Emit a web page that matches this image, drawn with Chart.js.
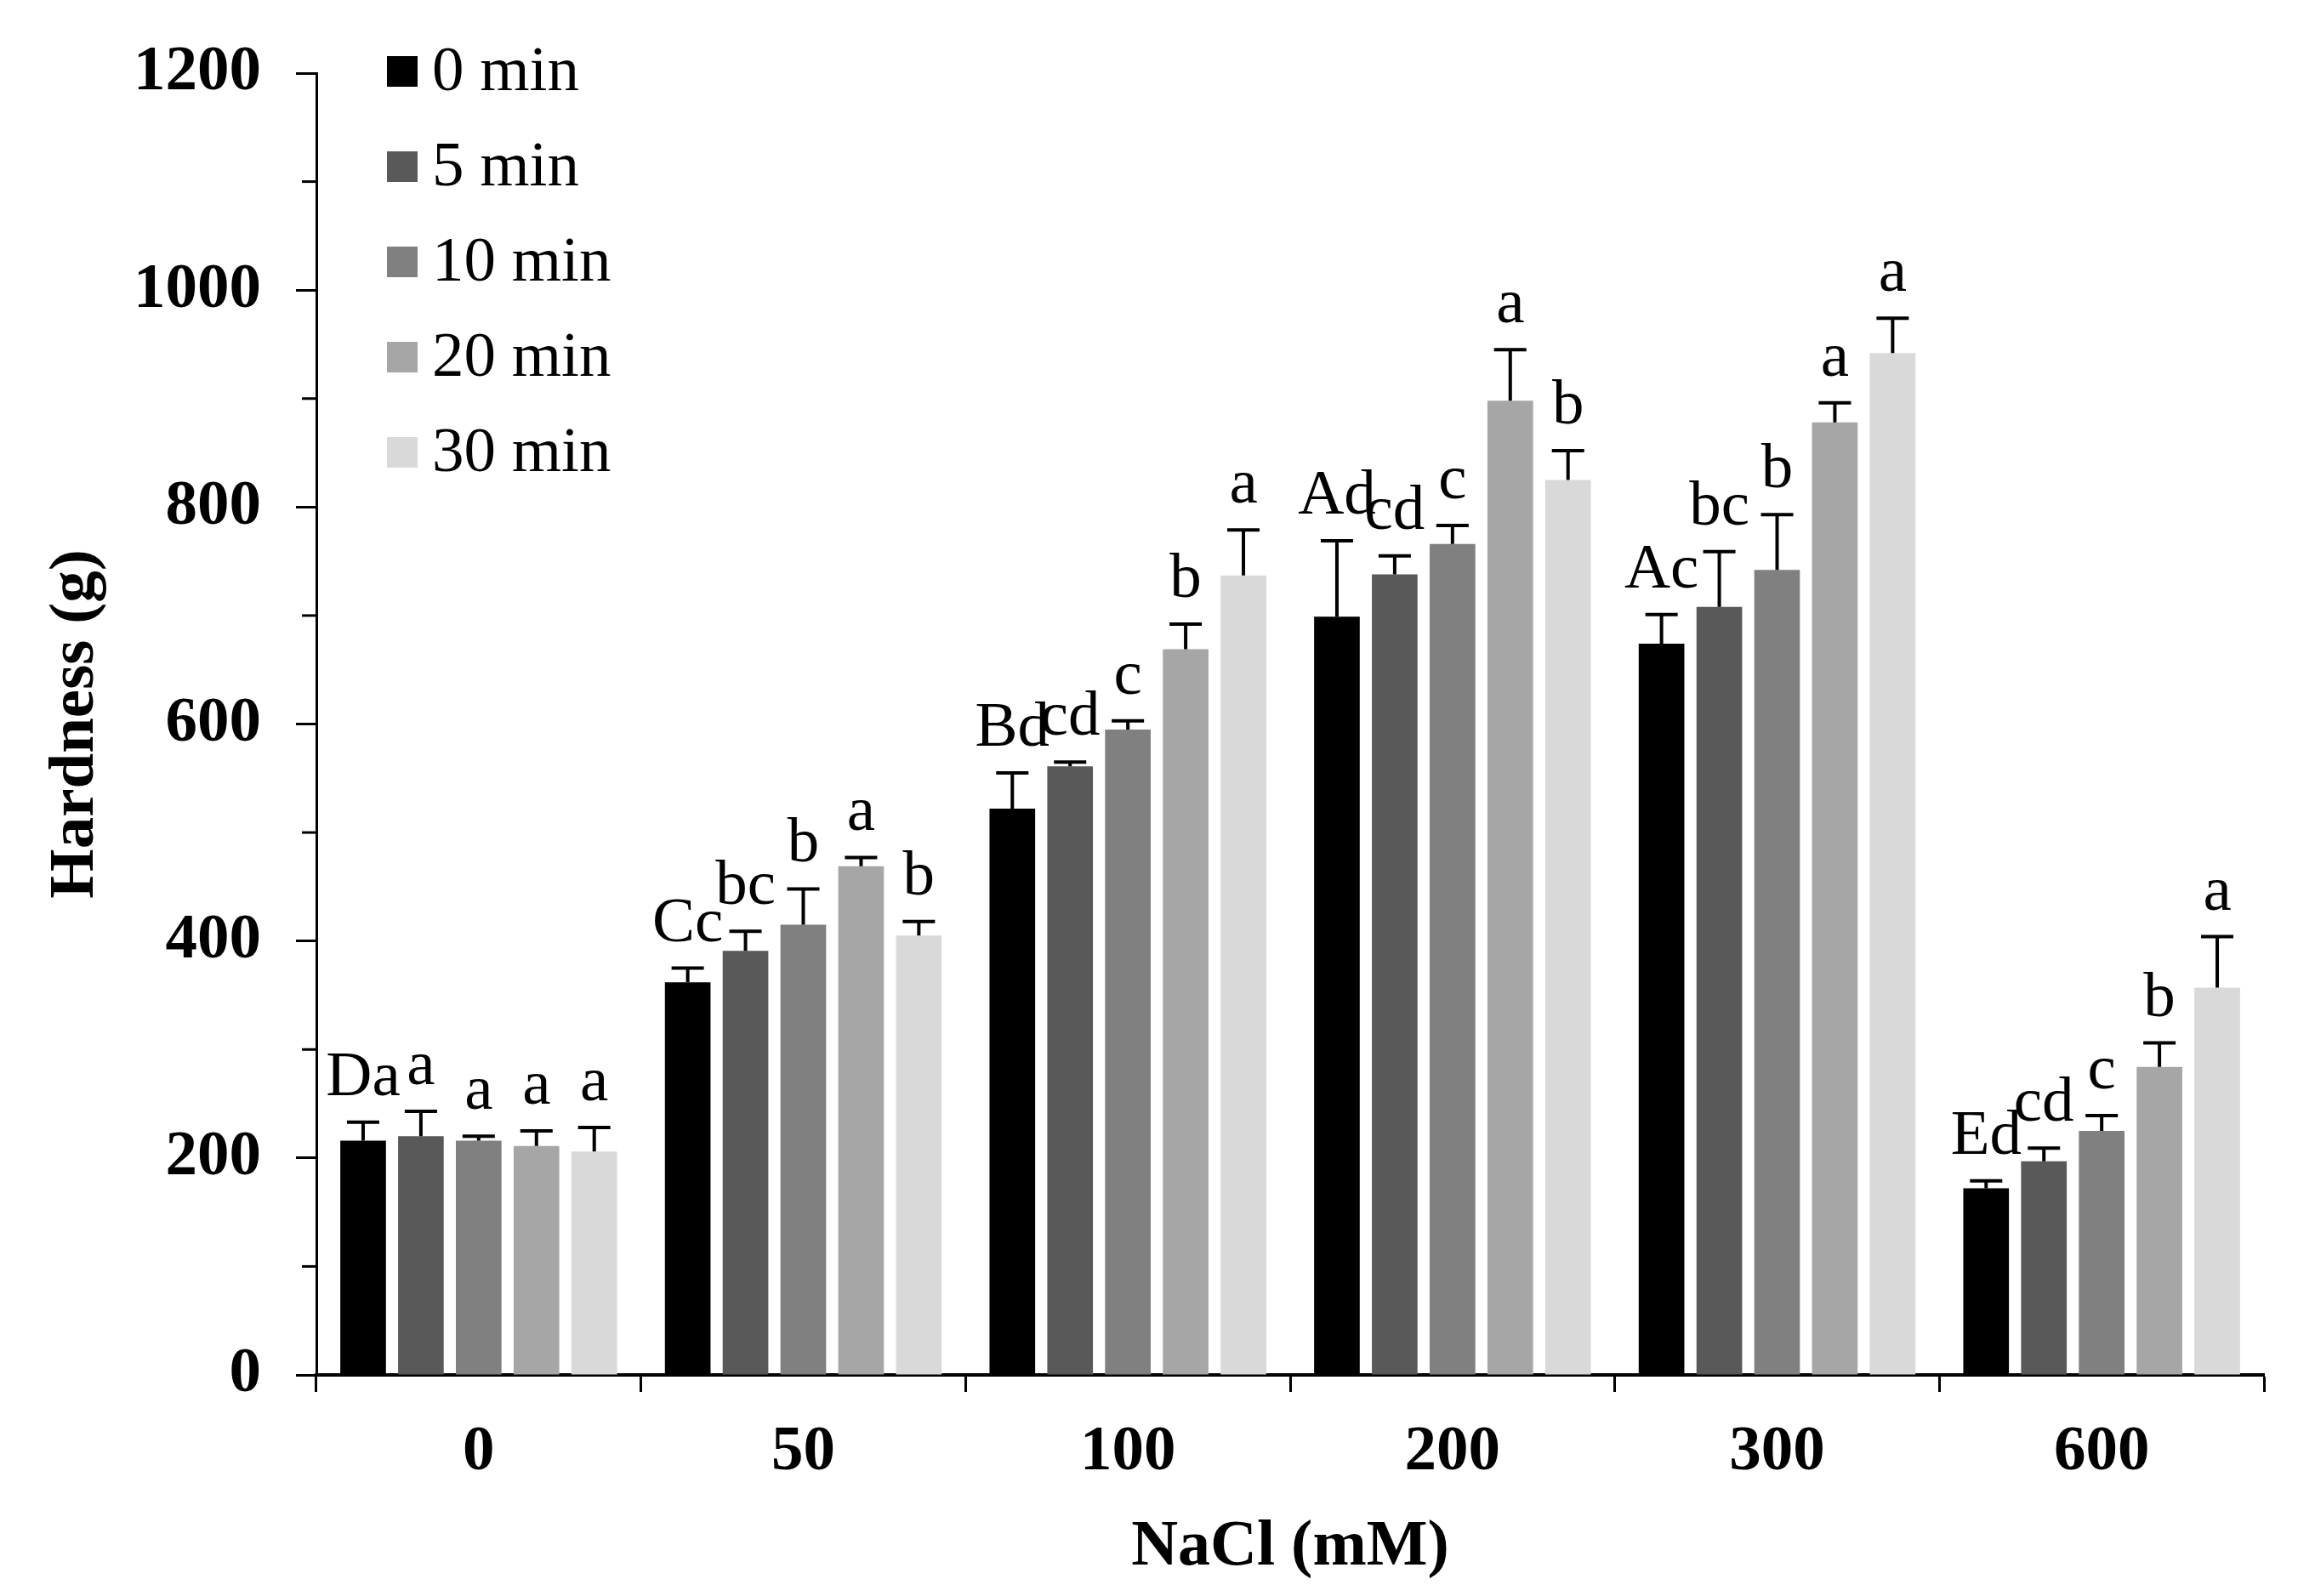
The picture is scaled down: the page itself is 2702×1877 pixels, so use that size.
<!DOCTYPE html>
<html>
<head>
<meta charset="utf-8">
<script src="https://cdn.jsdelivr.net/npm/chart.js@4.4.1/dist/chart.umd.min.js"></script>
<style>
  body { margin: 0; background: #fff; }
  #wrap { width: 2702px; height: 1877px; }
</style>
</head>
<body>
<div id="wrap"><canvas id="myChart" width="2702" height="1877"></canvas></div>
<script>
  // NaCl concentration groups (mM)
  const nacl = ["0", "50", "100", "200", "300", "600"];
  const seriesNames = ["0 min", "5 min", "10 min", "20 min", "30 min"];
  const seriesColors = ["#000000", "#595959", "#808080", "#a6a6a6", "#d9d9d9"];

  // hardness (g) per soaking time
  const hard0 = [216, 362, 522, 699, 674, 172];
  const hard5 = [220, 391, 561, 738, 708, 197];
  const hard10 = [216, 415, 595, 766, 742, 225];
  const hard20 = [211, 469, 669, 898, 878, 284];
  const hard30 = [206, 405, 737, 825, 942, 357];

  // error bars (upper only)
  const err0 = [17, 13, 33, 70, 27, 7];
  const err5 = [23, 18, 4, 17, 51, 12];
  const err10 = [4, 33, 8, 17, 51, 14];
  const err20 = [14, 8, 23, 47, 18, 22];
  const err30 = [22, 13, 42, 27, 32, 47];

  // significance letters
  const let0 = ["Da", "Cc", "Bd", "Ad", "Ac", "Ed"];
  const let5 = ["a", "bc", "cd", "cd", "bc", "cd"];
  const let10 = ["a", "b", "c", "c", "b", "c"];
  const let20 = ["a", "a", "b", "a", "a", "b"];
  const let30 = ["a", "b", "a", "b", "a", "a"];

  const yTicks = [0, 200, 400, 600, 800, 1000, 1200];

  const serif = '"Liberation Serif", "Times New Roman", serif';
  Chart.defaults.font.family = serif;
  Chart.defaults.color = "#000";

  const values = [hard0, hard5, hard10, hard20, hard30];
  const errors = [err0, err5, err10, err20, err30];
  const letters = [let0, let5, let10, let20, let30];

  // error bars + letters above them
  const errorBars = {
    id: "errorBars",
    afterDatasetsDraw(chart) {
      const ctx = chart.ctx;
      const y = chart.scales.y;
      ctx.save();
      ctx.strokeStyle = "#000";
      ctx.lineWidth = 4;
      ctx.fillStyle = "#000";
      ctx.font = "75px " + serif;
      ctx.textAlign = "center";
      ctx.textBaseline = "alphabetic";
      chart.data.datasets.forEach((ds, i) => {
        const meta = chart.getDatasetMeta(i);
        meta.data.forEach((bar, j) => {
          const top = y.getPixelForValue(ds.data[j] + ds.errors[j]);
          ctx.beginPath();
          ctx.moveTo(bar.x, bar.y);
          ctx.lineTo(bar.x, top);
          ctx.moveTo(bar.x - 19, top);
          ctx.lineTo(bar.x + 19, top);
          ctx.stroke();
          ctx.fillText(ds.letters[j], bar.x, top - 32);
        });
      });
      ctx.restore();
    },
  };

  // minor ticks on y axis (shorter than major ones)
  const minorTicks = {
    id: "minorTicks",
    afterDraw(chart) {
      const ctx = chart.ctx;
      const y = chart.scales.y;
      const left = chart.chartArea.left;
      ctx.save();
      ctx.strokeStyle = "#000";
      ctx.lineWidth = 3;
      y.ticks.forEach((t) => {
        if (t.value % 200 !== 0) {
          const py = y.getPixelForValue(t.value);
          ctx.beginPath();
          ctx.moveTo(left - 17, py);
          ctx.lineTo(left, py);
          ctx.stroke();
        }
      });
      ctx.restore();
    },
  };

  // legend inside the plot, top-left
  const insideLegend = {
    id: "insideLegend",
    afterDraw(chart) {
      const ctx = chart.ctx;
      const x0 = chart.chartArea.left + 83;
      ctx.save();
      ctx.font = "75px " + serif;
      ctx.textAlign = "left";
      ctx.textBaseline = "middle";
      chart.data.datasets.forEach((ds, i) => {
        const cy = 84 + i * 112;
        ctx.fillStyle = ds.backgroundColor;
        ctx.fillRect(x0, cy - 18, 36, 36);
        ctx.fillStyle = "#000";
        ctx.fillText(ds.label, x0 + 53, cy + 2);
      });
      ctx.restore();
    },
  };

  const ctx = document.getElementById("myChart").getContext("2d");
  const chart = new Chart(ctx, {
    type: "bar",
    data: {
      labels: nacl,
      datasets: seriesNames.map((name, i) => ({
        label: name,
        data: values[i],
        errors: errors[i],
        letters: letters[i],
        backgroundColor: seriesColors[i],
        borderWidth: 0,
        categoryPercentage: 0.89,
        barPercentage: 0.79,
      })),
    },
    options: {
      responsive: false,
      animation: false,
      devicePixelRatio: 1,
      layout: { padding: { top: 77, right: 40, left: 0, bottom: 0 } },
      plugins: {
        legend: { display: false },
        tooltip: { enabled: false },
      },
      scales: {
        x: {
          afterFit: (s) => { s.height = 260; },
          grid: {
            offset: true,
            drawOnChartArea: false,
            tickLength: 20,
            tickWidth: 3,
            tickColor: "#000",
          },
          border: { display: true, color: "#000", width: 4 },
          ticks: {
            font: { size: 75, weight: "bold" },
            padding: 27,
            color: "#000",
          },
          title: {
            display: true,
            text: "NaCl (mM)",
            font: { size: 76, weight: "bold" },
            padding: { top: 0, bottom: 11 },
            color: "#000",
          },
        },
        y: {
          min: 0,
          max: 1200,
          afterFit: (s) => { s.width = 372; },
          ticks: {
            stepSize: 100,
            autoSkip: false,
            font: { size: 75, weight: "bold" },
            padding: 41,
            color: "#000",
            callback: (v) => (yTicks.includes(v) ? String(v) : ""),
          },
          grid: {
            drawOnChartArea: false,
            tickLength: 24,
            tickWidth: 3,
            tickColor: (c) => (c.tick && c.tick.value % 200 === 0 ? "#000" : "rgba(0,0,0,0)"),
          },
          border: { display: true, color: "#000", width: 3 },
          title: {
            display: true,
            text: "Hardness (g)",
            font: { size: 75, weight: "bold" },
            padding: { top: 45, bottom: 0 },
            color: "#000",
          },
        },
      },
    },
    plugins: [errorBars, minorTicks, insideLegend],
  });
</script>
</body>
</html>
